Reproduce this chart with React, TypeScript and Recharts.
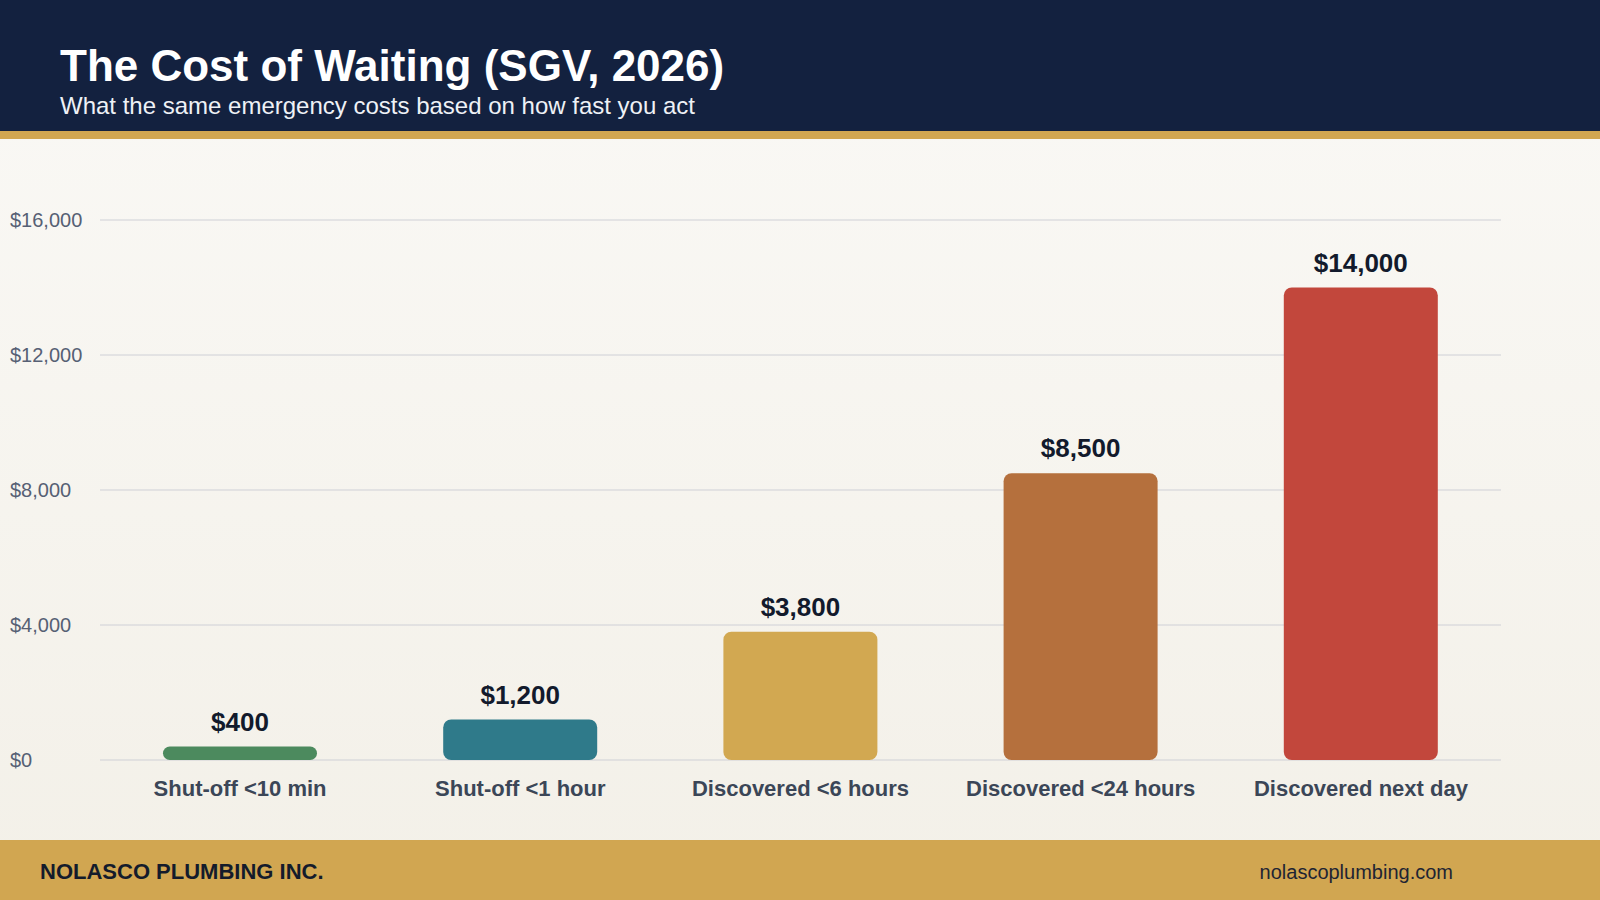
import { BarChart, Bar, XAxis, YAxis, CartesianGrid, Cell, LabelList } from "recharts";

const categories = [
  "Shut-off <10 min",
  "Shut-off <1 hour",
  "Discovered <6 hours",
  "Discovered <24 hours",
  "Discovered next day",
];
const costs = [400, 1200, 3800, 8500, 14000];
const barColors = ["#4c8a5e", "#2f7a8a", "#d2a851", "#b5703d", "#c2473c"];
const yTicks = [0, 4000, 8000, 12000, 16000];

const chartData = categories.map((name, i) => ({ name, cost: costs[i] }));

const FONT = "'Liberation Sans', Arial, Helvetica, sans-serif";

const money = (v: number) => `$${v.toLocaleString("en-US")}`;

// y ticks sit flush left in the reference
function LeftTick(props: any) {
  const { y, payload } = props;
  return (
    <text x={10} y={y} dy="0.35em" textAnchor="start" fill="#566074" fontSize={20} fontFamily={FONT}>
      {money(payload.value)}
    </text>
  );
}

export default function App() {
  return (
    <div
      style={{
        position: "relative",
        width: 1600,
        height: 900,
        overflow: "hidden",
        fontFamily: FONT,
        background: "linear-gradient(180deg, #faf9f6 0%, #f3f0e8 100%)",
      }}
    >
      <style>{"body{margin:0}"}</style>

      {/* header */}
      <div style={{ position: "absolute", left: 0, top: 0, width: 1600, height: 131, background: "#13213f" }} />
      <div style={{ position: "absolute", left: 0, top: 131, width: 1600, height: 8, background: "#d1a651" }} />
      <div
        style={{
          position: "absolute",
          left: 60,
          top: 44,
          fontSize: 44,
          lineHeight: 1,
          fontWeight: 700,
          color: "#ffffff",
          whiteSpace: "nowrap",
        }}
      >
        The Cost of Waiting (SGV, 2026)
      </div>
      <div
        style={{
          position: "absolute",
          left: 60,
          top: 94,
          fontSize: 24,
          lineHeight: 1,
          color: "#eef1f6",
          whiteSpace: "nowrap",
        }}
      >
        What the same emergency costs based on how fast you act
      </div>

      {/* chart */}
      <div style={{ position: "absolute", left: 0, top: 139 }}>
        <BarChart
          width={1600}
          height={701}
          data={chartData}
          margin={{ top: 81, right: 99, bottom: 20, left: 0 }}
        >
          <CartesianGrid vertical={false} stroke="#cfd0d6" strokeWidth={1} />
          <XAxis
            dataKey="name"
            axisLine={false}
            tickLine={false}
            height={60}
            tickMargin={14}
            tick={{ fill: "#3b4657", fontSize: 22, fontWeight: 700, fontFamily: FONT }}
          />
          <YAxis
            domain={[0, 16000]}
            ticks={yTicks}
            width={100}
            axisLine={false}
            tickLine={false}
            tick={<LeftTick />}
          />
          <Bar dataKey="cost" barSize={154} radius={[8, 8, 8, 8]} isAnimationActive={false}>
            {chartData.map((d, i) => (
              <Cell key={d.name} fill={barColors[i]} />
            ))}
            <LabelList
              dataKey="cost"
              position="top"
              offset={16}
              formatter={(v: number) => money(v)}
              style={{ fill: "#121a2c", fontSize: 26, fontWeight: 700, fontFamily: FONT }}
            />
          </Bar>
        </BarChart>
      </div>

      {/* footer */}
      <div style={{ position: "absolute", left: 0, top: 840, width: 1600, height: 60, background: "#d1a651" }} />
      <div
        style={{
          position: "absolute",
          left: 40,
          top: 861,
          fontSize: 22,
          lineHeight: 1,
          fontWeight: 700,
          color: "#141b2b",
          whiteSpace: "nowrap",
        }}
      >
        NOLASCO PLUMBING INC.
      </div>
      <div
        style={{
          position: "absolute",
          right: 147,
          top: 862,
          fontSize: 20,
          lineHeight: 1,
          color: "#1e2433",
          whiteSpace: "nowrap",
        }}
      >
        nolascoplumbing.com
      </div>
    </div>
  );
}
